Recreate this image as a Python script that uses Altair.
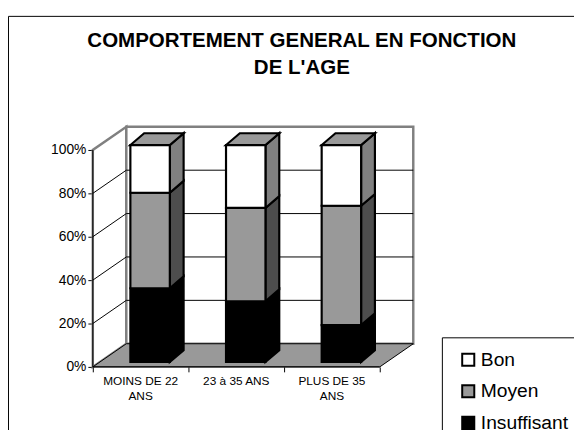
import altair as alt

# ---------------- data ----------------
categories = ["MOINS DE 22 ANS", "23 à 35 ANS", "PLUS DE 35 ANS"]
tick_labels = ["MOINS DE 22\nANS", "23 à 35 ANS", "PLUS DE 35\nANS"]
series = ["Insuffisant", "Moyen", "Bon"]
insuffisant = [34, 28, 17]
moyen = [44, 43, 55]
bon = [22, 29, 28]
y_ticks = [0, 20, 40, 60, 80, 100]
legend_order = ["Bon", "Moyen", "Insuffisant"]
front_colors = {"Bon": "#ffffff", "Moyen": "#999999", "Insuffisant": "#000000"}
side_colors = {"Bon": "#808080", "Moyen": "#4d4d4d", "Insuffisant": "#000000"}
title_text = "COMPORTEMENT GENERAL EN FONCTION\nDE L'AGE"

# ---------------- 3-D geometry (data units) ----------------
PX_X = 97.0          # px per category
PX_Y = 2.2           # px per percent
DX = 34 / PX_X       # wall depth (x)
DY = 23.5 / PX_Y     # wall depth (y)
FX = 9.6 / PX_X      # bar front plane offset
FY = 5 / PX_Y
BX = 14 / PX_X       # bar depth
BY = 12 / PX_Y
W = 40 / PX_X        # bar width
XMAX = len(categories) + DX
W_PX = 325
H_PX = 245
YMAX = H_PX / PX_Y

FONT = "Liberation Sans"

xscale = alt.Scale(domain=[0, XMAX], nice=False, zero=False)
yscale = alt.Scale(domain=[0, YMAX], nice=False, zero=False)
xaxis = alt.Axis(values=list(range(len(categories) + 1)), labels=False, tickSize=5,
                 tickColor="black", tickWidth=1, domain=False, grid=False, title=None)
yaxis = alt.Axis(values=y_ticks, labelExpr="datum.value + '%'", tickSize=5,
                 tickColor="black", tickWidth=1, domain=False, grid=False, title=None,
                 labelFontSize=14, labelFont=FONT, labelColor="black", labelPadding=2)


def X(f):
    return alt.X(f, type="quantitative", scale=xscale, axis=xaxis, stack=None)


def Y(f):
    return alt.Y(f, type="quantitative", scale=yscale, axis=yaxis, stack=None)


# ---------------- build tables ----------------
front_rows, side_rows, top_rows = [], [], []
for i, cat in enumerate(categories):
    cum = 0
    xl = i + 0.5 + FX - W / 2
    xr = xl + W
    for s, vals in zip(series, [insuffisant, moyen, bon]):
        v = vals[i]
        y0, y1 = cum, cum + v
        cum = y1
        front_rows.append(dict(cat=cat, serie=s, x=xl, x2=xr, y=y0 + FY, y2=y1 + FY))
        sid = f"{i}-{s}"
        side_rows.append(dict(id=sid, fill=side_colors[s], x=xr, y=y0 + FY, y2=y1 + FY))
        side_rows.append(dict(id=sid, fill=side_colors[s], x=xr + BX, y=y0 + FY + BY, y2=y1 + FY + BY))
    top_rows.append(dict(id=str(i), y=cum + FY, x=xl, x2=xr))
    top_rows.append(dict(id=str(i), y=cum + FY + BY, x=xl + BX, x2=xr + BX))

left_wall = [dict(x=0, y=0, y2=100), dict(x=DX, y=DY, y2=100 + DY)]
back_wall = [dict(x=DX, x2=len(categories) + DX, y=DY, y2=100 + DY)]
floor = [dict(y=0, x=0, x2=len(categories)), dict(y=DY, x=DX, x2=len(categories) + DX)]
grid_rows = []
for v in y_ticks[1:-1]:
    grid_rows.append(dict(x=0, x2=DX, y=v, y2=v + DY))
    grid_rows.append(dict(x=DX, x2=len(categories) + DX, y=v + DY, y2=v + DY))
axis_lines = [dict(x=0, x2=0, y=0, y2=100), dict(x=0, x2=len(categories), y=0, y2=0)]
cat_labels = [dict(label=t, pos=i + 0.5, base=0) for i, t in enumerate(tick_labels)]

# ---------------- layers ----------------
frame = alt.Chart(alt.Data(values=[{"a": 1}])).mark_rect(
    fillOpacity=0, stroke="#000000", strokeWidth=1
).encode(x=alt.value(-85.5), x2=alt.value(700), y=alt.value(-110.5), y2=alt.value(500))

title = alt.Chart(alt.Data(values=[{"t": title_text}])).mark_text(
    font=FONT, fontSize=20.8, fontWeight="bold", color="black", align="center",
    baseline="alphabetic", lineBreak="\n", lineHeight=26.5
).encode(x=alt.value(212), y=alt.value(-79), text="t:N")

lw = alt.Chart(alt.Data(values=left_wall)).mark_area(
    fill="white", stroke="#808080", strokeWidth=2.5
).encode(x=X("x"), y=Y("y"), y2=alt.Y2("y2"))

bw = alt.Chart(alt.Data(values=back_wall)).mark_rect(
    fill="white", stroke="#808080", strokeWidth=2.5
).encode(x=X("x"), x2=alt.X2("x2"), y=Y("y"), y2=alt.Y2("y2"))

grid = alt.Chart(alt.Data(values=grid_rows)).mark_rule(
    color="black", strokeWidth=1
).encode(x=X("x"), x2=alt.X2("x2"), y=Y("y"), y2=alt.Y2("y2"))

fl = alt.Chart(alt.Data(values=floor)).mark_area(
    orient="horizontal", fill="#999999", stroke="black", strokeWidth=1
).encode(y=Y("y"), x=X("x"), x2=alt.X2("x2"))

sides = alt.Chart(alt.Data(values=side_rows)).mark_area(
    stroke="black", strokeWidth=2.2, strokeJoin="miter"
).encode(x=X("x"), y=Y("y"), y2=alt.Y2("y2"), detail="id:N",
         fill=alt.Fill("fill:N", scale=None))

tops = alt.Chart(alt.Data(values=top_rows)).mark_area(
    orient="horizontal", fill="#999999", stroke="black", strokeWidth=2.2, strokeJoin="miter"
).encode(y=Y("y"), x=X("x"), x2=alt.X2("x2"), detail="id:N")

fronts = alt.Chart(alt.Data(values=front_rows)).mark_rect(
    stroke="black", strokeWidth=2.2, strokeJoin="miter"
).encode(
    x=X("x"), x2=alt.X2("x2"), y=Y("y"), y2=alt.Y2("y2"),
    color=alt.Color(
        "serie:N",
        scale=alt.Scale(domain=legend_order, range=[front_colors[k] for k in legend_order]),
        legend=alt.Legend(
            title=None, orient="none", legendX=354, legendY=215,
            symbolType="square", symbolSize=150, symbolStrokeColor="black",
            symbolStrokeWidth=2, symbolOpacity=1, symbolOffset=4,
            labelFontSize=19.5, labelFont=FONT, labelColor="black", labelOffset=3,
            rowPadding=11, padding=13, strokeColor="black", fillColor="white",
        ),
    ),
)

axl = alt.Chart(alt.Data(values=axis_lines)).mark_rule(
    color="black", strokeWidth=1
).encode(x=X("x"), x2=alt.X2("x2"), y=Y("y"), y2=alt.Y2("y2"))

labels = alt.Chart(alt.Data(values=cat_labels)).mark_text(
    font=FONT, fontSize=12, color="black", baseline="top", align="center",
    lineBreak="\n", lineHeight=16, dy=9
).encode(x=X("pos"), y=Y("base"), text="label:N")

chart = alt.layer(frame, title, lw, bw, grid, fl, sides, tops, fronts, axl, labels).properties(
    width=W_PX, height=H_PX,
    padding={"left": 86, "top": 116, "right": 163, "bottom": 61},
    autosize=alt.AutoSizeParams(type="none"),
    background="white",
).configure_view(strokeWidth=0)

chart.save("out.html", embed_options={"renderer": "svg", "actions": False})
